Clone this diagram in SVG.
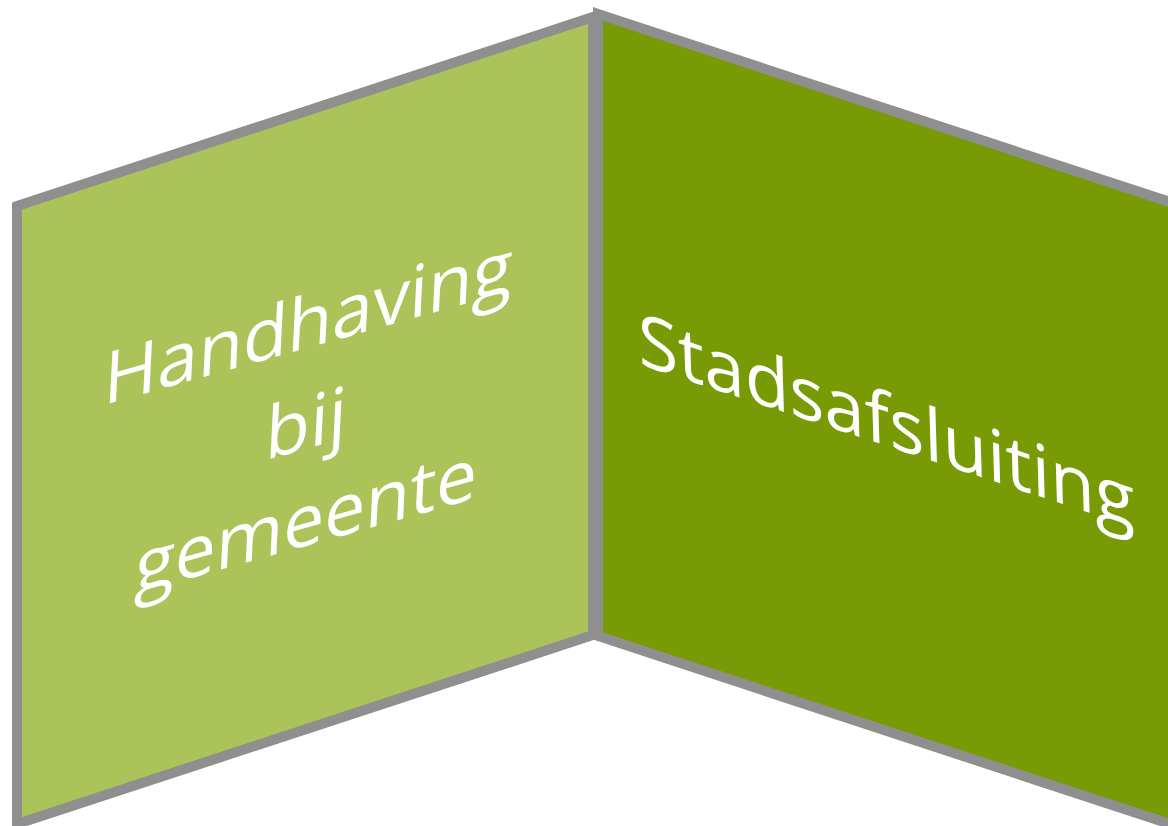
<svg xmlns="http://www.w3.org/2000/svg" width="1168" height="826" viewBox="0 0 1168 826">
  <style>
    .panel { stroke: #8F8F8F; stroke-width: 10; stroke-linejoin: miter; }
    .lbl { font-family: "Open Sans", "Noto Sans", "Liberation Sans", sans-serif; font-size: 73px; fill: #FFFFFF; text-anchor: middle; }
  </style>
  <rect width="1168" height="826" fill="#FFFFFF"/>
  <g id="panel-left">
    <polygon class="panel" fill="#ABC359" points="17,206 593,17 593,635 17,824"/>
    <text class="lbl" transform="translate(307,348) matrix(1,-0.28,-0.05,1,0,0)" x="0" y="0">Handhaving</text>
    <text class="lbl" transform="translate(305,449) matrix(1,-0.28,-0.05,1,0,0)" x="0" y="0">bij</text>
    <text class="lbl" transform="translate(305,546) matrix(1,-0.28,-0.05,1,0,0)" x="0" y="0">gemeente</text>
  </g>
  <g id="panel-right">
    <polygon class="panel" fill="#789B05" points="598,14 1176,204 1176,826 598,636"/>
    <text class="lbl" transform="translate(887,446) matrix(1,0.33,0.03,1,0,0)" x="0" y="0">Stadsafsluiting</text>
  </g>
  <g id="connectors"></g>
</svg>
